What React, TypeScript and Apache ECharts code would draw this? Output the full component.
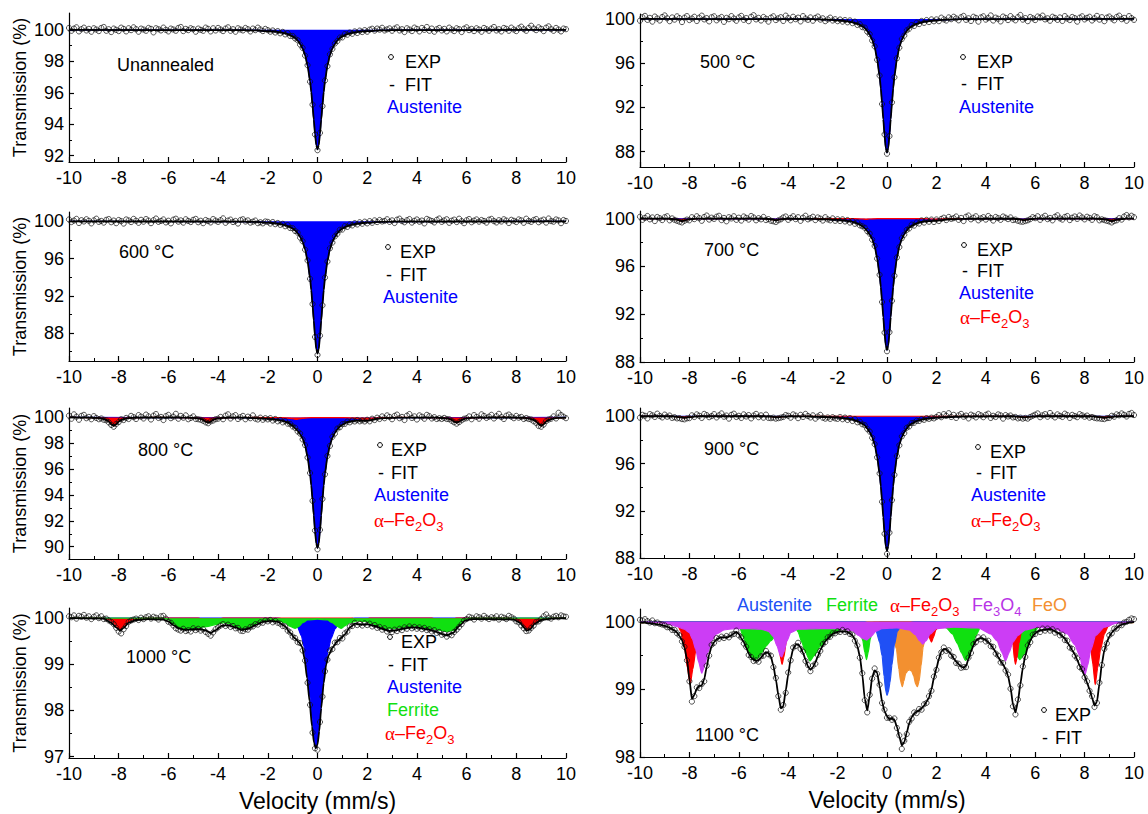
import React, { useEffect, useRef } from "react";
import * as echarts from "echarts";

// ---------------- DATA ----------------
// Transmission with no absorption (the baseline every sub-spectrum hangs from)
const BASELINE_TRANSMISSION = 100;

// Velocity channels (mm/s) of the measured points
const VELOCITY = [
  -10, -9.9, -9.8, -9.7, -9.6, -9.5, -9.4, -9.3, -9.2, -9.1,
  -9, -8.9, -8.8, -8.7, -8.6, -8.5, -8.4, -8.3, -8.2, -8.1,
  -8, -7.9, -7.8, -7.7, -7.6, -7.5, -7.4, -7.3, -7.2, -7.1,
  -7, -6.9, -6.8, -6.7, -6.6, -6.5, -6.4, -6.3, -6.2, -6.1,
  -6, -5.9, -5.8, -5.7, -5.6, -5.5, -5.4, -5.3, -5.2, -5.1,
  -5, -4.9, -4.8, -4.7, -4.6, -4.5, -4.4, -4.3, -4.2, -4.1,
  -4, -3.9, -3.8, -3.7, -3.6, -3.5, -3.4, -3.3, -3.2, -3.1,
  -3, -2.9, -2.8, -2.7, -2.6, -2.5, -2.4, -2.3, -2.2, -2.1,
  -2, -1.9, -1.8, -1.7, -1.6, -1.5, -1.4, -1.3, -1.2, -1.1,
  -1, -0.9, -0.8, -0.7, -0.6, -0.5, -0.4, -0.3, -0.2, -0.1,
  0, 0.1, 0.2, 0.3, 0.4, 0.5, 0.6, 0.7, 0.8, 0.9,
  1, 1.1, 1.2, 1.3, 1.4, 1.5, 1.6, 1.7, 1.8, 1.9,
  2, 2.1, 2.2, 2.3, 2.4, 2.5, 2.6, 2.7, 2.8, 2.9,
  3, 3.1, 3.2, 3.3, 3.4, 3.5, 3.6, 3.7, 3.8, 3.9,
  4, 4.1, 4.2, 4.3, 4.4, 4.5, 4.6, 4.7, 4.8, 4.9,
  5, 5.1, 5.2, 5.3, 5.4, 5.5, 5.6, 5.7, 5.8, 5.9,
  6, 6.1, 6.2, 6.3, 6.4, 6.5, 6.6, 6.7, 6.8, 6.9,
  7, 7.1, 7.2, 7.3, 7.4, 7.5, 7.6, 7.7, 7.8, 7.9,
  8, 8.1, 8.2, 8.3, 8.4, 8.5, 8.6, 8.7, 8.8, 8.9,
  9, 9.1, 9.2, 9.3, 9.4, 9.5, 9.6, 9.7, 9.8, 9.9, 10,
];

// Velocities at which the austenite singlet curves were read
const SINGLET_VELOCITY = [
  -10, -3, -2.5, -2, -1.8, -1.6, -1.4, -1.2, -1, -0.9, -0.8, -0.7, -0.6, -0.5, -0.4, -0.3, -0.25, -0.2, -0.15, -0.1, -0.05,
  0,
  0.05, 0.1, 0.15, 0.2, 0.25, 0.3, 0.4, 0.5, 0.6, 0.7, 0.8, 0.9, 1, 1.2, 1.4, 1.6, 1.8, 2, 2.5, 3, 10,
];

// Tick labels
const X_TICK_LABELS = [-10, -8, -6, -4, -2, 0, 2, 4, 6, 8, 10];
const Y_TICKS_UNANNEALED = [92, 94, 96, 98, 100];
const Y_MINOR_UNANNEALED = [93, 95, 97, 99];
const Y_TICKS_500 = [88, 92, 96, 100];
const Y_MINOR_500 = [90, 94, 98];
const Y_TICKS_600 = [88, 92, 96, 100];
const Y_MINOR_600 = [86, 90, 94, 98];
const Y_TICKS_700 = [88, 92, 96, 100];
const Y_MINOR_700 = [90, 94, 98];
const Y_TICKS_800 = [90, 92, 94, 96, 98, 100];
const Y_MINOR_800 = [91, 93, 95, 97, 99];
const Y_TICKS_900 = [88, 92, 96, 100];
const Y_MINOR_900 = [90, 94, 98];
const Y_TICKS_1000 = [97, 98, 99, 100];
const Y_MINOR_1000 = [97.5, 98.5, 99.5];
const Y_TICKS_1100 = [98, 99, 100];
const Y_MINOR_1100 = [98.5, 99.5];

// ---- Unannealed ----
const UNANNEALED_AUSTENITE = [
  100, 99.98, 99.96, 99.92, 99.9, 99.86, 99.81, 99.73, 99.58, 99.48, 99.32, 99.1, 98.82, 98.4, 97.72, 96.73, 96.05, 95.21, 94.3, 93.39, 92.67,
  92.4,
  92.67, 93.39, 94.3, 95.21, 96.05, 96.73, 97.72, 98.4, 98.82, 99.1, 99.32, 99.48, 99.58, 99.73, 99.81, 99.86, 99.9, 99.92, 99.96, 99.98, 100,
];
const UNANNEALED_EXP = [
  100.12, 99.94, 100.08, 100.16, 99.9, 100.04, 100.14, 99.96, 100.06, 99.88,
  100.1, 100.02, 99.92, 100.12, 100.18, 99.94, 100.04, 99.86, 100.08, 100.0,
  99.92, 100.14, 100.06, 99.9, 100.1, 99.98, 100.16, 100.04, 99.88, 100.08,
  100.02, 99.94, 100.12, 100.06, 99.84, 100.1, 100.04, 99.96, 100.14, 100.0,
  99.9, 100.08, 100.02, 99.94, 100.12, 100.18, 99.92, 100.06, 99.98, 100.1,
  100.04, 99.88, 100.08, 100.0, 99.94, 100.14, 100.06, 99.9, 100.1, 99.96,
  100.12, 100.02, 99.92, 100.08, 100.16, 99.94, 100.04, 99.88, 100.1, 100.02,
  99.96, 100.12, 100.04, 99.9, 100.08, 99.98, 100.14, 100.02, 99.92, 100.06,
  99.98, 99.88, 99.96, 99.83, 99.92, 99.78, 99.87, 99.71, 99.79, 99.61,
  99.61, 99.45, 99.34, 99.06, 98.85, 98.36, 97.75, 96.7, 95.25, 93.35,
  92.35, 93.45, 95.15, 96.78, 97.69, 98.44, 98.79, 99.13, 99.29, 99.51,
  99.52, 99.73, 99.69, 99.83, 99.75, 99.9, 99.8, 99.95, 99.86, 99.98,
  99.88, 100.01, 100.07, 99.95, 100.08, 100.01, 100.13, 99.96, 100.03, 100.09,
  99.94, 100.08, 100.16, 99.96, 100.04, 99.86, 100.1, 100.02, 99.92, 100.14,
  100.06, 99.9, 100.12, 100.0, 100.18, 99.94, 100.08, 99.88, 100.04, 100.12,
  99.96, 100.06, 99.9, 100.14, 100.02, 99.92, 100.1, 100.04, 99.86, 100.08,
  100.16, 99.98, 100.06, 99.92, 100.1, 100.02, 99.88, 100.12, 100.04, 99.94,
  100.08, 100.18, 99.96, 100.04, 99.9, 100.12, 100.06, 99.94, 100.14, 100.02,
  99.92, 100.1, 100.2, 100.04, 99.94, 100.12, 100.26, 100.08, 99.98, 100.16,
  100.06, 99.92, 100.14, 100.22, 100.04, 99.94, 100.12, 100.02, 99.9, 100.08, 100.04,
];

// ---- 500 °C ----
const T500_AUSTENITE = [
  100, 99.98, 99.94, 99.88, 99.84, 99.78, 99.7, 99.56, 99.33, 99.18, 98.91, 98.57, 98.12, 97.46, 96.37, 94.8, 93.71, 92.38, 90.93, 89.47, 88.32,
  87.9,
  88.32, 89.47, 90.93, 92.38, 93.71, 94.8, 96.37, 97.46, 98.12, 98.57, 98.91, 99.18, 99.33, 99.56, 99.7, 99.78, 99.84, 99.88, 99.94, 99.98, 100,
];
const T500_EXP = [
  99.84, 100.16, 100.28, 99.92, 100.1, 99.76, 100.22, 100.04, 99.86, 100.18,
  100.32, 100.06, 99.8, 100.14, 99.94, 100.24, 100.08, 99.72, 100.12, 100.26,
  99.9, 100.04, 100.2, 99.82, 100.12, 100.3, 99.96, 100.08, 99.78, 100.16,
  100.24, 99.88, 100.06, 100.18, 99.74, 100.1, 99.98, 100.26, 100.04, 99.84,
  100.14, 100.28, 99.92, 100.08, 99.8, 100.2, 100.34, 99.96, 100.1, 99.86,
  100.18, 100.02, 99.76, 100.12, 100.24, 99.9, 100.06, 100.16, 99.82, 100.3,
  100.08, 99.88, 100.2, 99.98, 100.12, 99.78, 100.26, 100.04, 99.92, 100.14,
  99.84, 100.1, 100.22, 99.94, 100.06, 99.8, 99.96, 100.12, 99.86, 99.98,
  99.8, 99.95, 99.76, 99.9, 99.7, 99.87, 99.62, 99.76, 99.46, 99.53,
  99.26, 99.22, 98.85, 98.62, 98.05, 97.52, 96.3, 94.88, 92.3, 89.55,
  87.8, 89.4, 92.45, 94.72, 96.44, 97.4, 98.18, 98.5, 98.97, 99.12,
  99.45, 99.37, 99.66, 99.54, 99.82, 99.65, 99.9, 99.72, 99.96, 99.79,
  99.96, 99.8, 100.12, 99.96, 99.86, 100.14, 99.98, 100.2, 100.05, 99.88,
  100.16, 100.28, 99.92, 100.06, 99.82, 100.2, 100.1, 99.76, 100.14, 100.24,
  99.94, 100.08, 100.32, 99.86, 100.12, 100.02, 99.78, 100.22, 100.1, 99.9,
  100.26, 100.04, 99.88, 100.16, 100.36, 99.94, 100.08, 99.8, 100.18, 100.06,
  99.9, 100.22, 100.12, 100.3, 99.96, 100.06, 99.84, 100.2, 100.1, 99.92,
  100.14, 99.82, 100.26, 100.04, 99.9, 100.18, 100.08, 99.76, 100.12, 100.24,
  99.96, 100.1, 100.2, 99.86, 100.06, 100.28, 99.94, 100.16, 99.8, 100.12,
  100.22, 100.04, 99.88, 100.18, 100.3, 99.98, 100.1, 99.84, 100.26, 100.08, 99.92,
];

// ---- 600 °C ----
const T600_AUSTENITE = [
  100, 99.97, 99.93, 99.86, 99.82, 99.74, 99.65, 99.49, 99.22, 99.03, 98.72, 98.32, 97.8, 97.02, 95.74, 93.89, 92.62, 91.05, 89.35, 87.65, 86.3,
  85.8,
  86.3, 87.65, 89.35, 91.05, 92.62, 93.89, 95.74, 97.02, 97.8, 98.32, 98.72, 99.03, 99.22, 99.49, 99.65, 99.74, 99.82, 99.86, 99.93, 99.97, 100,
];
const T600_EXP = [
  100.2, 99.92, 100.08, 100.26, 99.82, 100.12, 99.98, 100.22, 100.06, 99.78,
  100.1, 100.28, 99.94, 100.04, 99.86, 100.16, 100.24, 99.9, 100.08, 99.8,
  100.14, 100.02, 99.76, 100.2, 100.1, 99.92, 100.26, 100.06, 99.84, 100.16,
  99.96, 100.24, 100.08, 99.8, 100.12, 100.3, 99.94, 100.04, 100.2, 99.88,
  100.06, 99.78, 100.18, 100.28, 99.96, 100.1, 99.86, 100.22, 100.04, 99.92,
  100.16, 100.26, 99.9, 100.06, 99.8, 100.14, 100.02, 99.88, 100.24, 100.08,
  99.94, 100.12, 100.32, 99.84, 100.08, 100.18, 99.92, 100.04, 99.76, 100.14,
  100.22, 99.98, 100.1, 99.86, 99.96, 100.08, 99.8, 99.9, 99.78, 99.98,
  99.94, 99.76, 99.92, 99.69, 99.82, 99.62, 99.73, 99.47, 99.59, 99.28,
  99.26, 98.96, 98.78, 98.25, 97.86, 96.95, 95.8, 93.82, 91.12, 87.58,
  85.65, 87.72, 90.98, 93.96, 95.68, 97.1, 97.72, 98.38, 98.66, 99.09,
  99.12, 99.48, 99.4, 99.67, 99.56, 99.8, 99.66, 99.9, 99.74, 99.96,
  99.78, 100.02, 99.84, 100.1, 99.92, 100.14, 99.98, 100.04, 100.22, 99.94,
  100.1, 99.82, 100.18, 100.28, 100.02, 99.9, 100.12, 100.24, 99.86, 100.06,
  100.2, 99.96, 100.08, 99.78, 100.26, 100.14, 100.04, 99.88, 100.16, 100.3,
  99.94, 100.1, 100.22, 99.84, 100.06, 100.18, 99.92, 100.28, 100.02, 99.8,
  100.12, 100.24, 99.9, 100.08, 100.2, 99.96, 100.14, 100.04, 99.86, 100.18,
  100.26, 100.02, 99.88, 100.12, 99.98, 100.22, 100.08, 99.82, 100.16, 100.06,
  99.92, 100.2, 100.1, 99.84, 100.28, 100.04, 99.94, 100.14, 100.24, 99.9,
  100.08, 100.18, 99.86, 100.3, 100.02, 99.96, 100.2, 100.1, 99.8, 100.14, 100.04,
];

// ---- 700 °C ----
const T700_AUSTENITE = [
  100, 99.98, 99.95, 99.89, 99.86, 99.8, 99.73, 99.6, 99.4, 99.25, 99.01, 98.7, 98.3, 97.69, 96.7, 95.27, 94.28, 93.07, 91.75, 90.43, 89.39,
  89.0,
  89.39, 90.43, 91.75, 93.07, 94.28, 95.27, 96.7, 97.69, 98.3, 98.7, 99.01, 99.25, 99.4, 99.6, 99.73, 99.8, 99.86, 99.89, 99.95, 99.98, 100,
];
const T700_HEMATITE = [
  [-10, 100], [-8.9, 100], [-8.7, 99.97], [-8.5, 99.91], [-8.4, 99.85], [-8.3, 99.78], [-8.2, 99.85], [-8.1, 99.91], [-7.9, 99.97], [-7.7, 100],
  [-5.0, 100], [-4.8, 99.97], [-4.6, 99.91], [-4.5, 99.86], [-4.4, 99.91], [-4.2, 99.97], [-4.0, 100],
  [-1.3, 100], [-1.0, 99.97], [-0.85, 99.94], [-0.7, 99.97], [-0.4, 100],
  [1.5, 100], [1.8, 99.97], [1.95, 99.94], [2.1, 99.97], [2.4, 100],
  [5.05, 100], [5.25, 99.97], [5.45, 99.91], [5.55, 99.86], [5.65, 99.91], [5.85, 99.97], [6.05, 100],
  [8.5, 100], [8.7, 99.97], [8.9, 99.91], [9.0, 99.85], [9.1, 99.78], [9.2, 99.85], [9.3, 99.91], [9.5, 99.97], [9.7, 100], [10, 100],
];
const T700_FIT = [
  [-10, 100], [-8.9, 100], [-8.7, 99.97], [-8.5, 99.91], [-8.4, 99.85], [-8.3, 99.78], [-8.2, 99.85], [-8.1, 99.91], [-7.9, 99.97], [-7.7, 100],
  [-5.0, 100], [-4.8, 99.97], [-4.6, 99.91], [-4.5, 99.86], [-4.4, 99.91], [-4.2, 99.97], [-4.0, 99.99],
  [-3, 99.98], [-2.5, 99.95], [-2, 99.89], [-1.8, 99.86], [-1.6, 99.8], [-1.4, 99.73], [-1.2, 99.6], [-1, 99.37], [-0.9, 99.19],
  [-0.8, 98.96], [-0.7, 98.67], [-0.6, 98.29], [-0.5, 97.69], [-0.4, 96.7], [-0.3, 95.27], [-0.25, 94.28], [-0.2, 93.07], [-0.15, 91.75],
  [-0.1, 90.43], [-0.05, 89.39], [0, 89.0], [0.05, 89.39], [0.1, 90.43], [0.15, 91.75], [0.2, 93.07], [0.25, 94.28], [0.3, 95.27],
  [0.4, 96.7], [0.5, 97.69], [0.6, 98.3], [0.7, 98.7], [0.8, 99.01], [0.9, 99.25], [1, 99.4], [1.2, 99.6], [1.4, 99.72], [1.6, 99.78],
  [1.8, 99.8], [1.95, 99.81], [2.1, 99.85], [2.5, 99.95], [3, 99.98],
  [5.05, 100], [5.25, 99.97], [5.45, 99.91], [5.55, 99.86], [5.65, 99.91], [5.85, 99.97], [6.05, 100],
  [8.5, 100], [8.7, 99.97], [8.9, 99.91], [9.0, 99.85], [9.1, 99.78], [9.2, 99.85], [9.3, 99.91], [9.5, 99.97], [9.7, 100], [10, 100],
];
const T700_EXP = [
  100.16, 99.9, 100.06, 100.22, 99.94, 100.1, 99.8, 100.14, 100.04, 99.88,
  100.12, 100.2, 99.86, 100.02, 99.9, 99.82, 99.74, 99.68, 99.82, 99.92,
  99.86, 100.12, 99.96, 100.2, 100.04, 99.82, 100.14, 100.26, 99.92, 100.08,
  99.98, 100.16, 100.24, 99.88, 100.06, 99.78, 100.12, 100.02, 100.2, 99.9,
  100.08, 99.84, 100.18, 100.06, 99.92, 100.22, 100.1, 99.86, 100.04, 99.94,
  100.14, 99.88, 99.96, 99.82, 99.78, 99.72, 99.86, 99.94, 100.1, 100.18,
  99.9, 100.06, 100.2, 99.96, 100.12, 99.82, 100.08, 100.24, 99.94, 100.04,
  100.16, 99.88, 100.1, 100.0, 99.84, 100.12, 99.94, 99.86, 100.02, 99.82,
  99.95, 99.8, 99.94, 99.76, 99.88, 99.67, 99.79, 99.57, 99.68, 99.44,
  99.36, 99.24, 98.96, 98.74, 98.24, 97.72, 96.65, 95.3, 93.02, 90.46,
  88.9, 90.5, 93.12, 95.22, 96.75, 97.62, 98.36, 98.66, 99.06, 99.18,
  99.5, 99.42, 99.68, 99.59, 99.85, 99.67, 99.9, 99.74, 99.92, 99.72,
  99.93, 99.8, 99.98, 100.08, 99.88, 100.14, 99.98, 100.04, 100.18, 99.9,
  100.06, 99.8, 100.16, 100.26, 99.94, 100.08, 100.2, 99.86, 100.02, 100.12,
  99.92, 100.22, 100.06, 99.84, 100.14, 100.04, 99.9, 100.18, 100.08, 99.96,
  100.1, 99.88, 99.92, 99.82, 99.76, 99.74, 99.8, 99.86, 99.96, 100.12,
  100.04, 100.2, 99.9, 100.1, 100.24, 99.96, 100.06, 99.86, 100.16, 100.28,
  100.02, 99.92, 100.14, 100.22, 99.88, 100.08, 100.18, 99.98, 100.26, 100.1,
  99.94, 100.16, 100.06, 99.9, 100.2, 100.12, 99.86, 99.94, 99.88, 99.82,
  99.76, 99.68, 99.8, 99.86, 100.04, 99.92, 100.18, 100.3, 100.1, 100.24, 100.12,
];

// ---- 800 °C ----
const T800_AUSTENITE = [
  100, 99.98, 99.95, 99.9, 99.87, 99.82, 99.75, 99.64, 99.44, 99.31, 99.09, 98.81, 98.43, 97.88, 96.97, 95.66, 94.75, 93.64, 92.43, 91.21, 90.25,
  89.9,
  90.25, 91.21, 92.43, 93.64, 94.75, 95.66, 96.97, 97.88, 98.43, 98.81, 99.09, 99.31, 99.44, 99.64, 99.75, 99.82, 99.87, 99.9, 99.95, 99.98, 100,
];
const T800_HEMATITE = [
  [-10, 100], [-9.2, 99.99], [-8.9, 99.96], [-8.7, 99.92], [-8.6, 99.87], [-8.5, 99.8], [-8.4, 99.68], [-8.3, 99.48], [-8.2, 99.35],
  [-8.1, 99.48], [-8.0, 99.68], [-7.9, 99.8], [-7.8, 99.87], [-7.7, 99.92], [-7.5, 99.96], [-7.2, 99.99], [-6.5, 100],
  [-5.4, 99.99], [-5.1, 99.97], [-4.9, 99.95], [-4.8, 99.92], [-4.7, 99.88], [-4.6, 99.8], [-4.5, 99.67], [-4.4, 99.6], [-4.3, 99.67],
  [-4.2, 99.8], [-4.1, 99.88], [-4.0, 99.92], [-3.8, 99.97], [-3.5, 99.99], [-2.5, 100],
  [-1.6, 99.99], [-1.3, 99.97], [-1.1, 99.93], [-1.0, 99.9], [-0.9, 99.86], [-0.85, 99.85], [-0.75, 99.88], [-0.6, 99.93], [-0.4, 99.97],
  [-0.1, 99.99], [0.8, 99.99], [1.3, 99.97], [1.5, 99.94], [1.7, 99.9], [1.85, 99.86], [1.95, 99.85], [2.05, 99.87], [2.2, 99.91],
  [2.4, 99.95], [2.7, 99.98], [3.3, 100],
  [4.6, 99.99], [4.9, 99.97], [5.1, 99.94], [5.2, 99.92], [5.3, 99.88], [5.4, 99.8], [5.5, 99.67], [5.6, 99.6], [5.7, 99.67], [5.8, 99.8],
  [5.9, 99.88], [6.0, 99.92], [6.2, 99.97], [6.5, 99.99], [7.5, 100],
  [8.0, 99.99], [8.3, 99.96], [8.5, 99.92], [8.6, 99.87], [8.7, 99.8], [8.8, 99.68], [8.9, 99.48], [9.0, 99.35], [9.1, 99.48], [9.2, 99.68],
  [9.3, 99.8], [9.4, 99.87], [9.5, 99.92], [9.7, 99.96], [10, 99.98],
];
const T800_FIT = [
  [-10, 100], [-9.2, 99.99], [-8.9, 99.96], [-8.7, 99.92], [-8.6, 99.87], [-8.5, 99.8], [-8.4, 99.68], [-8.3, 99.48], [-8.2, 99.35],
  [-8.1, 99.48], [-8.0, 99.68], [-7.9, 99.8], [-7.8, 99.87], [-7.7, 99.92], [-7.5, 99.96], [-7.2, 99.99], [-6.5, 100],
  [-5.4, 99.99], [-5.1, 99.97], [-4.9, 99.95], [-4.8, 99.92], [-4.7, 99.88], [-4.6, 99.8], [-4.5, 99.67], [-4.4, 99.6], [-4.3, 99.67],
  [-4.2, 99.8], [-4.1, 99.88], [-4.0, 99.92], [-3.8, 99.97], [-3.5, 99.98], [-3, 99.98], [-2.5, 99.95], [-2, 99.89], [-1.8, 99.86],
  [-1.6, 99.81], [-1.4, 99.73], [-1.2, 99.61], [-1, 99.34], [-0.9, 99.17], [-0.8, 98.96], [-0.7, 98.71], [-0.6, 98.36], [-0.5, 97.83],
  [-0.4, 96.94], [-0.3, 95.64], [-0.25, 94.74], [-0.2, 93.63], [-0.15, 92.43], [-0.1, 91.21], [-0.05, 90.25], [0, 89.9], [0.05, 90.25],
  [0.1, 91.21], [0.15, 92.43], [0.2, 93.64], [0.25, 94.75], [0.3, 95.66], [0.4, 96.97], [0.5, 97.88], [0.6, 98.43], [0.7, 98.81],
  [0.8, 99.08], [0.9, 99.3], [1, 99.43], [1.2, 99.63], [1.4, 99.71], [1.6, 99.75], [1.8, 99.74], [1.95, 99.74], [2.1, 99.78],
  [2.4, 99.9], [2.7, 99.95], [3.3, 99.98],
  [4.6, 99.99], [4.9, 99.97], [5.1, 99.94], [5.2, 99.92], [5.3, 99.88], [5.4, 99.8], [5.5, 99.67], [5.6, 99.6], [5.7, 99.67], [5.8, 99.8],
  [5.9, 99.88], [6.0, 99.92], [6.2, 99.97], [6.5, 99.99], [7.5, 100],
  [8.0, 99.99], [8.3, 99.96], [8.5, 99.92], [8.6, 99.87], [8.7, 99.8], [8.8, 99.68], [8.9, 99.48], [9.0, 99.35], [9.1, 99.48], [9.2, 99.68],
  [9.3, 99.8], [9.4, 99.87], [9.5, 99.92], [9.7, 99.96], [10, 99.98],
];
const T800_EXP = [
  100.14, 99.9, 100.24, 100.06, 99.82, 100.12, 100.2, 99.94, 100.04, 99.86,
  100.1, 99.96, 99.86, 99.92, 99.82, 99.78, 99.62, 99.42, 99.28, 99.5,
  99.64, 99.86, 99.8, 99.96, 99.88, 100.12, 100.02, 99.88, 100.18, 100.06,
  99.92, 100.22, 100.08, 99.84, 100.14, 100.26, 99.96, 100.04, 99.8, 100.1,
  100.2, 99.94, 100.06, 100.28, 99.9, 100.12, 99.98, 100.16, 99.86, 99.96,
  100.08, 99.88, 99.86, 99.82, 99.74, 99.62, 99.55, 99.7, 99.76, 99.86,
  99.9, 100.04, 99.86, 100.14, 100.24, 99.92, 100.08, 100.18, 99.88, 100.02,
  100.12, 99.86, 100.06, 99.94, 100.16, 99.9, 99.84, 99.98, 99.82, 99.94,
  99.85, 99.94, 99.76, 99.88, 99.7, 99.8, 99.62, 99.72, 99.52, 99.5,
  99.3, 99.2, 98.92, 98.75, 98.3, 97.86, 96.9, 95.7, 93.55, 91.25,
  89.8, 91.3, 93.7, 95.6, 97.02, 97.8, 98.5, 98.75, 99.14, 99.24,
  99.48, 99.5, 99.68, 99.62, 99.76, 99.69, 99.8, 99.7, 99.77, 99.69,
  99.82, 99.7, 99.9, 99.8, 99.98, 99.88, 100.08, 99.94, 100.16, 100.04,
  99.86, 100.12, 100.22, 99.94, 100.04, 99.8, 100.14, 100.26, 99.96, 100.08,
  99.84, 100.16, 100.06, 99.9, 100.2, 100.1, 99.92, 100.02, 99.88, 99.94,
  99.88, 99.96, 99.88, 99.86, 99.74, 99.62, 99.52, 99.64, 99.78, 99.9,
  99.94, 100.08, 99.86, 100.18, 100.04, 99.9, 100.24, 100.12, 99.96, 100.06,
  100.2, 99.92, 100.1, 100.28, 100.02, 99.88, 100.14, 100.22, 100.06, 99.94,
  100.12, 99.98, 100.04, 99.88, 99.95, 99.88, 99.84, 99.7, 99.58, 99.34,
  99.28, 99.45, 99.72, 99.84, 99.9, 100.08, 99.92, 100.36, 100.18, 100.06, 99.94,
];

// ---- 900 °C ----
const T900_AUSTENITE = [
  100, 99.98, 99.94, 99.89, 99.85, 99.79, 99.72, 99.59, 99.37, 99.22, 98.97, 98.65, 98.23, 97.61, 96.58, 95.1, 94.07, 92.82, 91.45, 90.08, 89.0,
  88.6,
  89.0, 90.08, 91.45, 92.82, 94.07, 95.1, 96.58, 97.61, 98.23, 98.65, 98.97, 99.22, 99.37, 99.59, 99.72, 99.79, 99.85, 99.89, 99.94, 99.98, 100,
];
const T900_HEMATITE = [
  [-10, 100], [-8.8, 100], [-8.6, 99.98], [-8.4, 99.93], [-8.3, 99.9], [-8.2, 99.86], [-8.1, 99.9], [-8.0, 99.93], [-7.8, 99.98], [-7.6, 100],
  [-5.0, 100], [-4.8, 99.98], [-4.6, 99.95], [-4.45, 99.91], [-4.3, 99.95], [-4.1, 99.98], [-3.9, 100],
  [5.0, 100], [5.2, 99.98], [5.4, 99.95], [5.55, 99.91], [5.7, 99.95], [5.9, 99.98], [6.1, 100],
  [8.2, 100], [8.4, 99.98], [8.6, 99.93], [8.7, 99.9], [8.8, 99.86], [8.9, 99.9], [9.0, 99.93], [9.2, 99.98], [9.4, 100], [10, 100],
];
const T900_FIT = [
  [-10, 100], [-8.8, 100], [-8.6, 99.98], [-8.4, 99.93], [-8.3, 99.9], [-8.2, 99.86], [-8.1, 99.9], [-8.0, 99.93], [-7.8, 99.98], [-7.6, 100],
  [-5.0, 100], [-4.8, 99.98], [-4.6, 99.95], [-4.45, 99.91], [-4.3, 99.95], [-4.1, 99.98], [-3.9, 100],
  [-3, 99.98], [-2.5, 99.94], [-2, 99.89], [-1.8, 99.85], [-1.6, 99.79], [-1.4, 99.72], [-1.2, 99.59], [-1, 99.37], [-0.9, 99.22],
  [-0.8, 98.97], [-0.7, 98.65], [-0.6, 98.23], [-0.5, 97.61], [-0.4, 96.58], [-0.3, 95.1], [-0.25, 94.07], [-0.2, 92.82], [-0.15, 91.45],
  [-0.1, 90.08], [-0.05, 89.0], [0, 88.6], [0.05, 89.0], [0.1, 90.08], [0.15, 91.45], [0.2, 92.82], [0.25, 94.07], [0.3, 95.1],
  [0.4, 96.58], [0.5, 97.61], [0.6, 98.23], [0.7, 98.65], [0.8, 98.97], [0.9, 99.22], [1, 99.37], [1.2, 99.59], [1.4, 99.72], [1.6, 99.79],
  [1.8, 99.85], [2, 99.89], [2.5, 99.94], [3, 99.98],
  [5.0, 100], [5.2, 99.98], [5.4, 99.95], [5.55, 99.91], [5.7, 99.95], [5.9, 99.98], [6.1, 100],
  [8.2, 100], [8.4, 99.98], [8.6, 99.93], [8.7, 99.9], [8.8, 99.86], [8.9, 99.9], [9.0, 99.93], [9.2, 99.98], [9.4, 100], [10, 100],
];
const T900_EXP = [
  99.88, 100.12, 100.04, 99.82, 100.18, 100.08, 99.94, 100.22, 100.02, 99.9,
  100.14, 99.96, 100.06, 99.86, 99.92, 99.82, 99.84, 99.76, 99.74, 99.82,
  99.84, 100.08, 99.94, 100.16, 100.04, 99.86, 100.2, 100.1, 99.92, 100.02,
  100.18, 99.9, 100.08, 100.24, 99.96, 100.06, 99.8, 100.12, 100.22, 99.94,
  100.04, 99.86, 100.16, 99.98, 100.1, 99.82, 100.06, 100.2, 99.92, 100.08,
  99.88, 100.14, 99.86, 99.84, 99.88, 99.8, 99.84, 99.88, 99.94, 100.1,
  100.04, 99.88, 100.16, 100.06, 99.84, 100.12, 99.94, 100.2, 100.02, 99.9,
  100.08, 99.8, 99.98, 100.12, 99.88, 99.8, 99.9, 99.78, 99.92, 99.82,
  99.78, 99.93, 99.75, 99.89, 99.69, 99.84, 99.6, 99.76, 99.49, 99.54,
  99.32, 99.25, 98.93, 98.7, 98.18, 97.64, 96.52, 95.16, 92.76, 90.05,
  88.35, 90.15, 92.9, 95.04, 96.63, 97.54, 98.3, 98.58, 99.03, 99.14,
  99.42, 99.45, 99.62, 99.6, 99.76, 99.7, 99.84, 99.78, 99.88, 99.82,
  99.94, 100.1, 99.92, 100.18, 100.04, 100.26, 99.94, 100.12, 99.86, 100.08,
  100.2, 99.96, 100.06, 99.82, 100.14, 100.04, 99.9, 100.18, 100.08, 99.92,
  100.12, 100.22, 99.86, 100.04, 99.94, 100.16, 100.08, 99.8, 100.1, 99.98,
  100.06, 99.9, 99.94, 99.82, 99.88, 99.8, 99.86, 99.8, 99.94, 100.04,
  100.14, 100.24, 99.92, 100.08, 100.18, 99.96, 100.28, 100.06, 99.9, 100.16,
  100.04, 99.94, 100.22, 100.1, 99.86, 100.12, 100.02, 99.92, 100.18, 100.08,
  99.96, 100.06, 99.88, 99.94, 99.86, 99.82, 99.82, 99.78, 99.76, 99.84,
  99.86, 100.04, 99.96, 100.16, 100.08, 100.24, 100.12, 99.98, 100.2, 100.28, 100.1,
];

// ---- 1000 °C ----
const T1000_AUSTENITE = [
  [-10, 100], [-1.6, 100], [-1.3, 99.98], [-1.1, 99.95], [-0.95, 99.9], [-0.8, 99.8], [-0.65, 99.62], [-0.55, 99.4], [-0.45, 99.0],
  [-0.37, 98.62], [-0.3, 98.28], [-0.22, 97.83], [-0.15, 97.42], [-0.1, 97.24], [-0.07, 97.18], [-0.03, 97.22], [0.02, 97.38],
  [0.08, 97.7], [0.15, 98.1], [0.23, 98.55], [0.32, 98.95], [0.42, 99.28], [0.55, 99.56], [0.7, 99.76], [0.85, 99.88], [1.0, 99.94],
  [1.2, 99.98], [1.5, 100], [10, 100],
];
const T1000_HEMATITE = [
  [-10, 100], [-8.6, 100], [-8.4, 99.97], [-8.25, 99.92], [-8.1, 99.84], [-8.0, 99.77], [-7.95, 99.75], [-7.9, 99.76], [-7.8, 99.82],
  [-7.65, 99.9], [-7.5, 99.95], [-7.3, 99.98], [-7.0, 100],
  [-4.8, 100], [-4.55, 99.96], [-4.4, 99.9], [-4.3, 99.87], [-4.2, 99.9], [-4.05, 99.96], [-3.8, 100],
  [1.4, 100], [1.6, 99.96], [1.75, 99.93], [1.9, 99.96], [2.1, 100],
  [4.6, 100], [4.85, 99.96], [5.0, 99.9], [5.1, 99.87], [5.2, 99.9], [5.35, 99.96], [5.6, 100],
  [7.8, 100], [8.0, 99.97], [8.15, 99.92], [8.3, 99.84], [8.4, 99.77], [8.45, 99.75], [8.5, 99.76], [8.6, 99.82], [8.75, 99.9],
  [8.9, 99.95], [9.1, 99.98], [9.4, 100], [10, 100],
];
const T1000_FERRITE = [
  [-10, 100], [-6.2, 100], [-6.0, 99.97], [-5.8, 99.88], [-5.6, 99.8], [-5.3, 99.76], [-5.0, 99.78], [-4.7, 99.8], [-4.4, 99.82],
  [-4.1, 99.86], [-3.8, 99.9], [-3.5, 99.88], [-3.3, 99.82], [-3.05, 99.76], [-2.8, 99.8], [-2.5, 99.88], [-2.2, 99.94], [-1.9, 99.96],
  [-1.6, 99.95], [-1.3, 99.9], [-1.1, 99.82], [-0.9, 99.78], [-0.75, 99.82], [-0.6, 99.9], [-0.4, 99.96], [0, 99.98], [0.4, 99.96],
  [0.6, 99.9], [0.8, 99.82], [0.95, 99.78], [1.1, 99.83], [1.3, 99.9], [1.6, 99.94], [1.9, 99.93], [2.2, 99.88], [2.5, 99.82],
  [2.8, 99.77], [3.1, 99.78], [3.4, 99.8], [3.7, 99.82], [4.0, 99.83], [4.3, 99.8], [4.6, 99.77], [4.9, 99.74], [5.2, 99.71],
  [5.5, 99.74], [5.7, 99.84], [5.9, 99.96], [6.1, 100], [10, 100],
];
const T1000_FIT = [
  [-10, 100], [-8.6, 99.99], [-8.3, 99.9], [-8.1, 99.8], [-7.95, 99.73], [-7.8, 99.79], [-7.6, 99.9], [-7.3, 99.96], [-6.8, 99.98],
  [-6.2, 99.97], [-6.0, 99.93], [-5.8, 99.85], [-5.6, 99.78], [-5.3, 99.74], [-5.0, 99.76], [-4.7, 99.76], [-4.5, 99.73], [-4.3, 99.68],
  [-4.1, 99.74], [-3.85, 99.84], [-3.6, 99.85], [-3.3, 99.8], [-3.05, 99.74], [-2.8, 99.77], [-2.5, 99.85], [-2.2, 99.92], [-1.9, 99.94],
  [-1.6, 99.92], [-1.3, 99.82], [-1.1, 99.68], [-0.9, 99.56], [-0.75, 99.48], [-0.62, 99.38], [-0.52, 99.12], [-0.42, 98.7],
  [-0.32, 98.2], [-0.22, 97.65], [-0.14, 97.3], [-0.07, 97.18], [0, 97.26], [0.07, 97.55], [0.15, 98.05], [0.25, 98.6], [0.35, 99.0],
  [0.45, 99.2], [0.6, 99.36], [0.8, 99.5], [0.95, 99.57], [1.1, 99.65], [1.3, 99.8], [1.5, 99.88], [1.75, 99.86], [2.0, 99.87],
  [2.3, 99.83], [2.6, 99.77], [2.9, 99.72], [3.2, 99.74], [3.5, 99.78], [3.8, 99.8], [4.1, 99.79], [4.4, 99.76], [4.7, 99.72],
  [5.0, 99.66], [5.2, 99.63], [5.45, 99.68], [5.7, 99.83], [5.95, 99.95], [6.2, 99.98], [7.0, 99.98], [7.9, 99.97], [8.15, 99.9],
  [8.3, 99.8], [8.42, 99.73], [8.55, 99.76], [8.75, 99.88], [9.0, 99.96], [9.4, 99.99], [10, 100],
];
const T1000_EXP = [
  100.04, 100.02, 100.06, 99.99, 100.05, 100.03, 100.07, 100.01, 100.04, 99.98,
  100.03, 100.06, 100.0, 100.04, 99.98, 99.99, 99.95, 99.92, 99.87, 99.79,
  99.71, 99.67, 99.76, 99.83, 99.92, 99.95, 99.97, 99.99, 99.96, 100.01,
  99.98, 100.02, 100.04, 99.99, 100.03, 100.01, 99.97, 100.04, 100.05, 99.99,
  99.92, 99.9, 99.84, 99.78, 99.75, 99.73, 99.77, 99.72, 99.74, 99.71,
  99.78, 99.74, 99.77, 99.73, 99.76, 99.7, 99.66, 99.62, 99.69, 99.76,
  99.8, 99.84, 99.87, 99.83, 99.86, 99.81, 99.83, 99.78, 99.79, 99.73,
  99.72, 99.76, 99.75, 99.81, 99.82, 99.87, 99.86, 99.91, 99.9, 99.95,
  99.93, 99.96, 99.91, 99.94, 99.9, 99.88, 99.83, 99.82, 99.73, 99.69,
  99.6, 99.57, 99.48, 99.46, 99.3, 99.08, 98.6, 98.12, 97.52, 97.18,
  97.15, 97.75, 98.3, 98.85, 99.1, 99.3, 99.33, 99.47, 99.48, 99.57,
  99.56, 99.67, 99.71, 99.82, 99.83, 99.9, 99.85, 99.88, 99.84, 99.89,
  99.85, 99.88, 99.82, 99.85, 99.79, 99.81, 99.75, 99.78, 99.71, 99.74,
  99.7, 99.75, 99.72, 99.77, 99.74, 99.8, 99.77, 99.82, 99.78, 99.81,
  99.77, 99.8, 99.76, 99.79, 99.74, 99.76, 99.71, 99.74, 99.68, 99.7,
  99.64, 99.66, 99.6, 99.65, 99.63, 99.7, 99.75, 99.81, 99.87, 99.95,
  99.98, 100.03, 100.01, 99.97, 100.04, 100.02, 99.99, 100.05, 100.01, 99.98,
  100.02, 100.0, 100.04, 99.97, 100.03, 100.01, 99.98, 100.05, 100.02, 99.99,
  99.93, 99.91, 99.84, 99.78, 99.72, 99.73, 99.79, 99.84, 99.92, 99.93,
  99.98, 100.04, 100.08, 100.01, 99.99, 100.03, 100.05, 100.02, 100.06, 100.04, 100.03,
];

// ---- 1100 °C ----
const T1100_AUSTENITE = [
  [-10, 100], [-0.9, 100], [-0.65, 99.96], [-0.5, 99.9], [-0.43, 99.85], [-0.3, 99.7], [-0.2, 99.5], [-0.12, 99.2], [-0.05, 98.98],
  [0, 98.91], [0.05, 98.96], [0.12, 99.1], [0.2, 99.36], [0.3, 99.66], [0.42, 99.86], [0.55, 99.93], [0.75, 99.97], [1.1, 100], [10, 100],
];
const T1100_FERRITE = [
  [-10, 100], [-6.3, 100], [-6.1, 99.97], [-5.95, 99.9], [-5.8, 99.76], [-5.65, 99.6], [-5.5, 99.49], [-5.35, 99.44], [-5.2, 99.47],
  [-5.05, 99.55], [-4.9, 99.64], [-4.7, 99.72], [-4.5, 99.8], [-4.3, 99.87], [-4.1, 99.93], [-3.9, 99.97], [-3.75, 99.95],
  [-3.6, 99.85], [-3.45, 99.7], [-3.3, 99.55], [-3.12, 99.42], [-2.95, 99.5], [-2.7, 99.64], [-2.4, 99.75], [-2.1, 99.84],
  [-1.8, 99.91], [-1.5, 99.96], [-1.25, 99.97], [-1.1, 99.9], [-0.98, 99.72], [-0.9, 99.55], [-0.83, 99.44], [-0.76, 99.55],
  [-0.68, 99.74], [-0.58, 99.88], [-0.45, 99.96], [-0.3, 100],
  [1.9, 100], [2.1, 99.97], [2.4, 99.91], [2.65, 99.82], [2.85, 99.68], [3.02, 99.54], [3.17, 99.43], [3.3, 99.47], [3.45, 99.62],
  [3.6, 99.8], [3.8, 99.93], [4.0, 99.98], [4.3, 100],
  [4.8, 100], [4.95, 99.9], [5.08, 99.72], [5.22, 99.53], [5.38, 99.44], [5.55, 99.52], [5.75, 99.68], [5.95, 99.83], [6.15, 99.94],
  [6.4, 99.99], [10, 100],
];
const T1100_HEMATITE = [
  [-10, 100], [-8.7, 100], [-8.5, 99.97], [-8.35, 99.86], [-8.2, 99.62], [-8.08, 99.32], [-7.97, 99.07], [-7.86, 99.3], [-7.74, 99.58],
  [-7.55, 99.83], [-7.35, 99.94], [-7.0, 99.99], [-6.6, 100],
  [-4.8, 100], [-4.62, 99.96], [-4.5, 99.86], [-4.4, 99.7], [-4.3, 99.45], [-4.25, 99.37], [-4.18, 99.47], [-4.08, 99.7],
  [-3.98, 99.86], [-3.85, 99.96], [-3.6, 100],
  [1.3, 100], [1.5, 99.96], [1.64, 99.86], [1.72, 99.76], [1.8, 99.7], [1.88, 99.77], [1.98, 99.88], [2.15, 99.96], [2.4, 100],
  [4.75, 100], [4.9, 99.96], [5.0, 99.86], [5.1, 99.66], [5.16, 99.45], [5.2, 99.37], [5.26, 99.46], [5.34, 99.68], [5.45, 99.86],
  [5.6, 99.96], [5.8, 100],
  [7.7, 100], [7.95, 99.97], [8.1, 99.9], [8.22, 99.72], [8.33, 99.38], [8.43, 99.07], [8.53, 99.32], [8.65, 99.6], [8.8, 99.82],
  [8.95, 99.93], [9.2, 99.99], [10, 100],
];
const T1100_MAGNETITE = [
  [-10, 100], [-9.3, 99.99], [-8.9, 99.97], [-8.5, 99.93], [-8.2, 99.89], [-8.0, 99.84], [-7.88, 99.75], [-7.75, 99.6], [-7.62, 99.4],
  [-7.5, 99.24], [-7.38, 99.35], [-7.25, 99.55], [-7.1, 99.72], [-6.9, 99.82], [-6.6, 99.88], [-6.2, 99.9], [-5.6, 99.9], [-5.1, 99.89],
  [-4.8, 99.86], [-4.6, 99.78], [-4.45, 99.64], [-4.32, 99.5], [-4.26, 99.48], [-4.18, 99.55], [-4.05, 99.72], [-3.9, 99.84],
  [-3.6, 99.89], [-2.7, 99.9], [-1.9, 99.9], [-1.4, 99.87], [-1.15, 99.8], [-1.0, 99.76], [-0.83, 99.73], [-0.65, 99.78],
  [-0.45, 99.86], [-0.2, 99.9], [0.4, 99.91], [0.9, 99.88], [1.15, 99.81], [1.32, 99.72], [1.45, 99.67], [1.58, 99.72], [1.75, 99.82],
  [2.0, 99.9], [2.7, 99.92], [3.7, 99.91], [4.2, 99.82], [4.45, 99.72], [4.65, 99.55], [4.8, 99.42], [4.95, 99.55], [5.1, 99.7],
  [5.3, 99.8], [5.6, 99.88], [6.1, 99.92], [6.8, 99.9], [7.3, 99.82], [7.6, 99.66], [7.8, 99.5], [7.93, 99.3], [8.02, 99.22],
  [8.12, 99.35], [8.25, 99.58], [8.45, 99.8], [8.8, 99.92], [9.3, 99.98], [10, 100],
];
const T1100_WUSTITE = [
  [-10, 100], [-0.6, 100], [-0.3, 99.94], [-0.1, 99.91], [0.1, 99.87], [0.25, 99.8], [0.38, 99.6], [0.48, 99.3], [0.55, 99.12],
  [0.62, 99.04], [0.68, 99.12], [0.76, 99.24], [0.85, 99.28], [0.92, 99.29], [1.0, 99.27], [1.08, 99.2], [1.16, 99.08], [1.23, 99.04],
  [1.3, 99.12], [1.38, 99.35], [1.46, 99.62], [1.56, 99.8], [1.7, 99.89], [1.9, 99.94], [2.2, 99.97], [2.6, 100], [10, 100],
];
const T1100_FIT = [
  99.99, 99.99, 99.99, 99.98, 99.98, 99.97, 99.97, 99.96, 99.96, 99.95,
  99.94, 99.93, 99.91, 99.89, 99.87, 99.84, 99.79, 99.73, 99.62, 99.45,
  99.15, 98.86, 98.92, 99.01, 99.05, 99.06, 99.15, 99.33, 99.52, 99.64,
  99.7, 99.74, 99.76, 99.77, 99.77, 99.77, 99.78, 99.8, 99.83, 99.85,
  99.82, 99.76, 99.7, 99.62, 99.53, 99.47, 99.44, 99.42, 99.43, 99.47,
  99.52, 99.55, 99.54, 99.48, 99.35, 99.15, 98.92, 98.72, 98.75, 98.98,
  99.22, 99.45, 99.6, 99.66, 99.67, 99.62, 99.54, 99.44, 99.34, 99.29,
  99.33, 99.4, 99.49, 99.58, 99.65, 99.71, 99.75, 99.79, 99.82, 99.84,
  99.85, 99.86, 99.86, 99.86, 99.85, 99.83, 99.8, 99.74, 99.64, 99.49,
  99.22, 98.86, 98.69, 98.9, 99.18, 99.28, 99.25, 99.05, 98.82, 98.68,
  98.6, 98.56, 98.57, 98.55, 98.45, 98.3, 98.17, 98.22, 98.36, 98.5,
  98.59, 98.64, 98.67, 98.69, 98.72, 98.76, 98.82, 98.88, 99.0, 99.17,
  99.31, 99.45, 99.56, 99.6, 99.59, 99.56, 99.52, 99.46, 99.41, 99.37,
  99.34, 99.32, 99.35, 99.45, 99.56, 99.65, 99.72, 99.75, 99.76, 99.75,
  99.73, 99.7, 99.66, 99.61, 99.55, 99.48, 99.42, 99.37, 99.3, 99.2,
  99.03, 98.78, 98.66, 98.82, 99.08, 99.32, 99.5, 99.63, 99.72, 99.79,
  99.83, 99.86, 99.87, 99.88, 99.88, 99.89, 99.89, 99.88, 99.86, 99.84,
  99.82, 99.79, 99.75, 99.7, 99.64, 99.58, 99.52, 99.44, 99.35, 99.28,
  99.2, 99.1, 99.0, 98.88, 98.76, 98.82, 99.08, 99.38, 99.58, 99.7,
  99.78, 99.84, 99.88, 99.91, 99.94, 99.96, 99.97, 99.98, 99.99, 99.99, 100.0,
];
const T1100_EXP = [
  100.03, 100.02, 100.04, 100.01, 99.99, 100.02, 99.98, 99.99, 99.97, 99.96,
  99.95, 99.92, 99.92, 99.88, 99.88, 99.83, 99.8, 99.71, 99.63, 99.43,
  99.12, 98.82, 98.9, 99.03, 99.02, 99.08, 99.12, 99.35, 99.5, 99.66,
  99.69, 99.76, 99.75, 99.78, 99.76, 99.79, 99.77, 99.81, 99.82, 99.87,
  99.8, 99.77, 99.68, 99.63, 99.51, 99.48, 99.42, 99.43, 99.41, 99.49,
  99.5, 99.57, 99.52, 99.5, 99.33, 99.17, 98.9, 98.7, 98.77, 98.95,
  99.25, 99.43, 99.62, 99.64, 99.69, 99.6, 99.56, 99.42, 99.36, 99.27,
  99.35, 99.38, 99.51, 99.57, 99.67, 99.7, 99.77, 99.78, 99.83, 99.83,
  99.86, 99.85, 99.88, 99.85, 99.86, 99.82, 99.81, 99.72, 99.65, 99.47,
  99.24, 98.84, 98.66, 98.92, 99.16, 99.31, 99.23, 99.07, 98.8, 98.7,
  98.58, 98.58, 98.55, 98.57, 98.43, 98.32, 98.12, 98.24, 98.34, 98.52,
  98.57, 98.66, 98.65, 98.71, 98.7, 98.78, 98.8, 98.9, 98.98, 99.19,
  99.29, 99.47, 99.55, 99.62, 99.57, 99.58, 99.5, 99.48, 99.39, 99.38,
  99.32, 99.33, 99.33, 99.47, 99.54, 99.67, 99.7, 99.77, 99.74, 99.77,
  99.71, 99.72, 99.64, 99.63, 99.53, 99.5, 99.4, 99.39, 99.28, 99.22,
  99.01, 98.75, 98.63, 98.85, 99.06, 99.34, 99.48, 99.65, 99.7, 99.81,
  99.82, 99.88, 99.85, 99.9, 99.87, 99.9, 99.87, 99.89, 99.84, 99.86,
  99.8, 99.81, 99.73, 99.72, 99.62, 99.6, 99.5, 99.46, 99.33, 99.3,
  99.18, 99.12, 98.98, 98.9, 98.74, 98.8, 99.1, 99.36, 99.6, 99.68,
  99.8, 99.83, 99.9, 99.9, 99.95, 99.95, 99.99, 100.0, 100.03, 100.05, 100.04,
];

// ---------------- STYLE / LAYOUT ----------------
const FONT = '"Liberation Sans", Arial, Helvetica, sans-serif';
const BLUE = "#0000FF";
const BLUE_1100 = "#2050F5";
const GREEN = "#10E010";
const RED = "#FF0000";
const MAGENTA = "#CC3DF5";
const MAGENTA_TEXT = "#B834E6";
const ORANGE = "#F39030";

const zip = (xs: number[], ys: number[]) => xs.map((x, i) => [x, ys[i]]);

type Comp = { color: string; data: number[][] };
type Panel = {
  grid: { left: number; top: number; width: number; height: number };
  yMin: number;
  yMax: number;
  yTicks: number[];
  yMinor: number[];
  yName: boolean;
  xName: boolean;
  comps: Comp[];
  baselineColor?: string;
  fit: number[][];
  exp: number[][];
};

const LX = 69, LW = 497, RX = 640, RW = 494;

const PANELS: Panel[] = [
  {
    grid: { left: LX, top: 13, width: LW, height: 149 }, yMin: 91.6, yMax: 101.07,
    yTicks: Y_TICKS_UNANNEALED, yMinor: Y_MINOR_UNANNEALED, yName: true, xName: false,
    comps: [{ color: BLUE, data: zip(SINGLET_VELOCITY, UNANNEALED_AUSTENITE) }],
    fit: zip(SINGLET_VELOCITY, UNANNEALED_AUSTENITE), exp: zip(VELOCITY, UNANNEALED_EXP),
  },
  {
    grid: { left: RX, top: 14, width: RW, height: 153 }, yMin: 86.6, yMax: 100.45,
    yTicks: Y_TICKS_500, yMinor: Y_MINOR_500, yName: false, xName: false,
    comps: [{ color: BLUE, data: zip(SINGLET_VELOCITY, T500_AUSTENITE) }],
    fit: zip(SINGLET_VELOCITY, T500_AUSTENITE), exp: zip(VELOCITY, T500_EXP),
  },
  {
    grid: { left: LX, top: 212, width: LW, height: 149 }, yMin: 85, yMax: 101,
    yTicks: Y_TICKS_600, yMinor: Y_MINOR_600, yName: true, xName: false,
    comps: [{ color: BLUE, data: zip(SINGLET_VELOCITY, T600_AUSTENITE) }],
    fit: zip(SINGLET_VELOCITY, T600_AUSTENITE), exp: zip(VELOCITY, T600_EXP),
  },
  {
    grid: { left: RX, top: 211, width: RW, height: 151 }, yMin: 88, yMax: 100.64,
    yTicks: Y_TICKS_700, yMinor: Y_MINOR_700, yName: false, xName: false,
    comps: [
      { color: BLUE, data: zip(SINGLET_VELOCITY, T700_AUSTENITE) },
      { color: RED, data: T700_HEMATITE },
    ],
    fit: T700_FIT, exp: zip(VELOCITY, T700_EXP),
  },
  {
    grid: { left: LX, top: 408, width: LW, height: 151 }, yMin: 89.05, yMax: 100.73,
    yTicks: Y_TICKS_800, yMinor: Y_MINOR_800, yName: true, xName: false,
    comps: [
      { color: BLUE, data: zip(SINGLET_VELOCITY, T800_AUSTENITE) },
      { color: RED, data: T800_HEMATITE },
    ],
    fit: T800_FIT, exp: zip(VELOCITY, T800_EXP),
  },
  {
    grid: { left: RX, top: 408, width: RW, height: 150 }, yMin: 88, yMax: 100.7,
    yTicks: Y_TICKS_900, yMinor: Y_MINOR_900, yName: false, xName: false,
    comps: [
      { color: BLUE, data: zip(SINGLET_VELOCITY, T900_AUSTENITE) },
      { color: RED, data: T900_HEMATITE },
    ],
    fit: T900_FIT, exp: zip(VELOCITY, T900_EXP),
  },
  {
    grid: { left: LX, top: 608, width: LW, height: 150 }, yMin: 96.97, yMax: 100.22,
    yTicks: Y_TICKS_1000, yMinor: Y_MINOR_1000, yName: true, xName: true,
    comps: [
      { color: BLUE, data: T1000_AUSTENITE },
      { color: RED, data: T1000_HEMATITE },
      { color: GREEN, data: T1000_FERRITE },
    ],
    fit: T1000_FIT, exp: zip(VELOCITY, T1000_EXP),
  },
  {
    grid: { left: RX, top: 609, width: RW, height: 148 }, yMin: 98, yMax: 100.19,
    yTicks: Y_TICKS_1100, yMinor: Y_MINOR_1100, yName: false, xName: true,
    comps: [
      { color: GREEN, data: T1100_FERRITE },
      { color: RED, data: T1100_HEMATITE },
      { color: ORANGE, data: T1100_WUSTITE },
      { color: BLUE_1100, data: T1100_AUSTENITE },
      { color: MAGENTA, data: T1100_MAGNETITE },
    ],
    baselineColor: ORANGE,
    fit: zip(VELOCITY, T1100_FIT), exp: zip(VELOCITY, T1100_EXP),
  },
];

const textEl = (x: number, y: number, text: string, fill = "#000", size = 18) => ({
  type: "text",
  x,
  y,
  silent: true,
  style: {
    text,
    fill,
    font: `${size}px ${FONT}`,
    textAlign: "left",
    textVerticalAlign: "middle",
    align: "left",
    verticalAlign: "middle",
  },
});

const formulaEl = (x: number, y: number, parts: [string, boolean, boolean][], fill: string) => {
  // parts: [text, isSubscript, isGreek]
  const rich: any = {
    n: { fontSize: 18, fontFamily: FONT, lineHeight: 26, fill, color: fill },
    g: { fontSize: 19, fontFamily: '"Liberation Serif", "Times New Roman", serif', lineHeight: 26, fill, color: fill },
    s: { fontSize: 13, fontFamily: FONT, lineHeight: 13, verticalAlign: "bottom", fill, color: fill },
  };
  const text = parts.map(([t, sub, greek]) => `{${sub ? "s" : greek ? "g" : "n"}|${t}}`).join("");
  return {
    type: "text",
    x,
    y,
    silent: true,
    style: {
      text,
      rich,
      fill,
      font: `18px ${FONT}`,
      textAlign: "left",
      textVerticalAlign: "middle",
      align: "left",
      verticalAlign: "middle",
    },
  };
};

const HEMATITE_PARTS: [string, boolean, boolean][] = [["α", false, true], ["–Fe", false, false], ["2", true, false], ["O", false, false], ["3", true, false]];
const MAGNETITE_PARTS: [string, boolean, boolean][] = [["Fe", false, false], ["3", true, false], ["O", false, false], ["4", true, false]];

const circleEl = (cx: number, cy: number) => ({
  type: "circle",
  silent: true,
  shape: { cx, cy, r: 2.4 },
  style: { fill: "none", stroke: "#000", lineWidth: 1 },
});

const legendBlock = (circleX: number, expX: number, expY: number, fitY: number) => [
  circleEl(circleX, expY - 5),
  textEl(expX, expY, "EXP"),
  textEl(circleX - 2, fitY, "-"),
  textEl(expX, fitY, "FIT"),
];

const GRAPHICS: any[] = [
  textEl(117, 65, "Unannealed"),
  ...legendBlock(391, 405, 62, 85),
  textEl(387, 107, "Austenite", BLUE),

  textEl(700, 62, "500 °C"),
  ...legendBlock(963, 977, 62, 84),
  textEl(959, 107, "Austenite", BLUE),

  textEl(119, 252, "600 °C"),
  ...legendBlock(388, 400, 252, 275),
  textEl(383, 297, "Austenite", BLUE),

  textEl(704, 250, "700 °C"),
  ...legendBlock(964, 977, 250, 271),
  textEl(959, 293, "Austenite", BLUE),
  formulaEl(960, 317, HEMATITE_PARTS, RED),

  textEl(138, 450, "800 °C"),
  ...legendBlock(380, 391, 450, 473),
  textEl(374, 495, "Austenite", BLUE),
  formulaEl(374, 520, HEMATITE_PARTS, RED),

  textEl(704, 449, "900 °C"),
  ...legendBlock(978, 990, 452, 473),
  textEl(971, 495, "Austenite", BLUE),
  formulaEl(971, 520, HEMATITE_PARTS, RED),

  textEl(126, 657, "1000 °C"),
  ...legendBlock(390, 401, 642, 665),
  textEl(387, 687, "Austenite", BLUE),
  textEl(387, 710, "Ferrite", GREEN),
  formulaEl(385, 733, HEMATITE_PARTS, RED),

  textEl(737, 605, "Austenite", BLUE_1100),
  textEl(826, 605, "Ferrite", GREEN),
  formulaEl(890, 605, HEMATITE_PARTS, RED),
  formulaEl(972, 605, MAGNETITE_PARTS, MAGENTA_TEXT),
  textEl(1032, 605, "FeO", ORANGE),
  textEl(695, 735, "1100 °C"),
  ...legendBlock(1044, 1055, 715, 738),
];

function buildOption() {
  const grid: any[] = [];
  const xAxis: any[] = [];
  const yAxis: any[] = [];
  const series: any[] = [];
  const axisColor = "#000";

  PANELS.forEach((p, i) => {
    grid.push({ ...p.grid, containLabel: false });
    xAxis.push({
      type: "value",
      gridIndex: i,
      min: -10,
      max: 10,
      interval: 2,
      axisLine: { show: true, onZero: false, lineStyle: { color: axisColor, width: 1.2 } },
      axisTick: { show: true, inside: true, length: 5, lineStyle: { color: axisColor, width: 1.2 }, customValues: X_TICK_LABELS },
      minorTick: { show: true, splitNumber: 2, length: 3, lineStyle: { color: axisColor, width: 1 } },
      axisLabel: { color: "#000", fontSize: 18, fontFamily: FONT, margin: 7, customValues: X_TICK_LABELS },
      splitLine: { show: false },
      minorSplitLine: { show: false },
      name: p.xName ? "Velocity (mm/s)" : "",
      nameLocation: "middle",
      nameGap: 31,
      nameTextStyle: { color: "#000", fontSize: 23, fontFamily: FONT },
    });
    yAxis.push({
      type: "value",
      gridIndex: i,
      position: "left",
      min: p.yMin,
      max: p.yMax,
      axisLine: { show: true, onZero: false, lineStyle: { color: axisColor, width: 1.2 } },
      axisTick: { show: true, inside: true, length: 5, lineStyle: { color: axisColor, width: 1.2 }, customValues: p.yTicks },
      axisLabel: { color: "#000", fontSize: 18, fontFamily: FONT, margin: 5, customValues: p.yTicks, showMinLabel: true, showMaxLabel: true },
      splitLine: { show: false },
      name: p.yName ? "Transmission (%)" : "",
      nameLocation: "middle",
      nameGap: 40,
      nameTextStyle: { color: "#000", fontSize: 18, fontFamily: FONT },
    });
    yAxis.push({
      type: "value",
      gridIndex: i,
      position: "left",
      min: p.yMin,
      max: p.yMax,
      axisLine: { show: false, onZero: false },
      axisTick: { show: true, inside: true, length: 3, lineStyle: { color: axisColor, width: 1 }, customValues: p.yMinor },
      axisLabel: { show: false },
      splitLine: { show: false },
    });

    const yIdx = i * 2;
    p.comps.forEach((c, k) => {
      series.push({
        type: "line",
        xAxisIndex: i,
        yAxisIndex: yIdx,
        data: c.data,
        symbol: "none",
        showSymbol: false,
        smooth: 0.2,
        smoothMonotone: "x",
        silent: true,
        z: 2 + k,
        lineStyle: { color: c.color, width: 1.2 },
        itemStyle: { color: c.color },
        areaStyle: { color: c.color, opacity: 1, origin: BASELINE_TRANSMISSION },
      });
    });
    if (p.baselineColor) {
      // zero-absorption baseline of the last-listed sub-spectrum, drawn above the fills
      series.push({
        type: "line",
        xAxisIndex: i,
        yAxisIndex: yIdx,
        data: [],
        silent: true,
        z: 2 + p.comps.length,
        markLine: {
          silent: true,
          symbol: ["none", "none"],
          label: { show: false },
          lineStyle: { color: p.baselineColor, width: 1.4, type: "solid" },
          data: [{ yAxis: BASELINE_TRANSMISSION }],
        },
      });
    }
    series.push({
      type: "scatter",
      xAxisIndex: i,
      yAxisIndex: yIdx,
      data: p.exp,
      symbol: "circle",
      symbolSize: 5.2,
      silent: true,
      z: 10,
      itemStyle: { color: "rgba(255,255,255,0)", borderColor: "#111", borderWidth: 0.9 },
    });
    series.push({
      type: "line",
      xAxisIndex: i,
      yAxisIndex: yIdx,
      data: p.fit,
      symbol: "none",
      showSymbol: false,
      smooth: 0.2,
      smoothMonotone: "x",
      silent: true,
      z: 11,
      lineStyle: { color: "#000", width: 1.8 },
    });
  });

  return {
    animation: false,
    backgroundColor: "#ffffff",
    textStyle: { fontFamily: FONT },
    grid,
    xAxis,
    yAxis,
    series,
    graphic: { elements: GRAPHICS },
  };
}

export default function App() {
  const ref = useRef<HTMLDivElement>(null);
  useEffect(() => {
    document.body.style.margin = "0";
    document.body.style.overflow = "hidden";
    if (!ref.current) return;
    const chart = echarts.init(ref.current, undefined, { renderer: "svg" });
    chart.setOption(buildOption() as any);
    return () => chart.dispose();
  }, []);
  return <div ref={ref} style={{ width: 1148, height: 814, background: "#fff" }} />;
}
